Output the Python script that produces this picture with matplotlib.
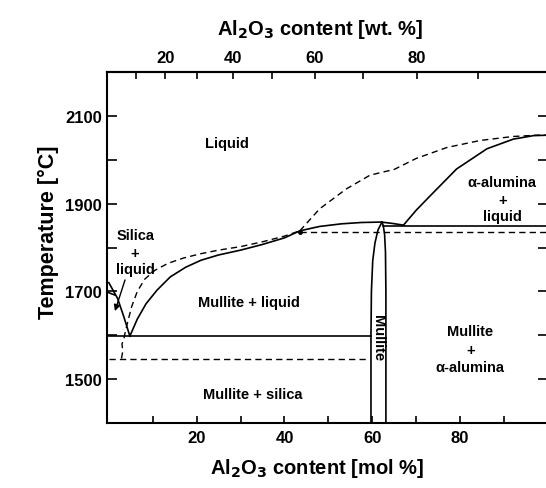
import numpy as np
import matplotlib

matplotlib.use("Agg")
import matplotlib.pyplot as plt
from matplotlib.ticker import FixedLocator

plt.rcParams["font.family"] = ["Liberation Sans", "DejaVu Sans"]
plt.rcParams["font.weight"] = "bold"

M_AL2O3, M_SIO2 = 101.96, 60.08

# stable liquidus, mullite + liquid side (mol % Al2O3, degC)
LIQ_MUL_X = [4.8, 6.5, 8.5, 11.0, 14.0, 17.5, 21.0, 25.0, 30.0, 35.0, 40.0, 43.5,
             48.0, 53.0, 57.5, 62.0, 64.5, 67.1]
LIQ_MUL_T = [1598, 1637, 1672, 1703, 1733, 1755, 1771, 1783, 1794, 1807, 1822, 1838,
             1848, 1854, 1857, 1858, 1855, 1851]
# alumina liquidus
LIQ_ALU_X = [67.1, 70.0, 73.2, 79.2, 86.1, 92.1, 96.7, 100.0]
LIQ_ALU_T = [1851, 1885, 1918, 1979, 2025, 2047, 2055, 2056]
# silica liquidus
LIQ_SIL_X = [0.0, 2.0, 3.4, 4.8]
LIQ_SIL_T = [1720, 1684, 1643, 1598]
LIQ_SIL2_X = [0.0, 1.3]
LIQ_SIL2_T = [1697, 1692]
# metastable liquidus (dashed), low-alumina part
META_LOW_X = [2.9, 3.2, 3.0, 3.4, 3.7, 4.3, 5.2, 6.5, 8.2, 10.5, 13.5, 17.0, 21.0,
              25.0, 30.0, 35.0, 40.0, 43.5]
META_LOW_T = [1547, 1565, 1580, 1590, 1605, 1630, 1665, 1700, 1728, 1748, 1764, 1776,
              1786, 1794, 1802, 1813, 1826, 1838]
# metastable liquidus (dashed), high-alumina part
META_HIGH_X = [43.5, 48.0, 54.0, 59.5, 65.0, 70.0, 77.0, 84.6, 92.0, 97.5, 100.0]
META_HIGH_T = [1838, 1888, 1933, 1965, 1978, 2003, 2028, 2044, 2053, 2056, 2056]

# mullite solid solution field
MUL_LEFT_X = [59.7, 59.7, 59.8, 60.1, 60.6, 61.3, 62.2]
MUL_LEFT_T = [1400, 1600, 1700, 1770, 1810, 1840, 1858]
MUL_RIGHT_X = [63.1, 63.1, 63.0, 62.8, 62.5, 62.2]
MUL_RIGHT_T = [1400, 1700, 1790, 1830, 1850, 1858]

# invariant lines: (x start, x end, T)
EUTECTIC = (0.0, 59.7, 1598)
META_EUTECTIC = (0.0, 58.7, 1547)
ALU_EUTECTIC = (62.5, 100.0, 1850)
META_ALU = (43.5, 100.0, 1835)

# leader arrow in silica + liquid field
ARROW_FROM = (3.7, 1726)
ARROW_TO = (1.4, 1655)

LABELS = [
    ("Liquid", 26.8, 2038),
    ("Silica", 6.0, 1828), ("+", 6.0, 1787), ("liquid", 6.0, 1751),
    ("Mullite + liquid", 31.9, 1676),
    ("Mullite + silica", 32.7, 1466),
    ("\u03b1-alumina", 89.6, 1949), ("+", 89.6, 1909), ("liquid", 89.6, 1871),
    ("Mullite", 82.3, 1610), ("+", 82.3, 1567), ("\u03b1-alumina", 82.3, 1527),
]

WT_MAJOR = [20, 40, 60, 80]
WT_MINOR = [10, 30, 50, 70, 90]


def mol_to_wt(x):
    x = np.asarray(x, float)
    a = x * M_AL2O3
    return 100 * a / (a + (100 - x) * M_SIO2)


def wt_to_mol(w):
    w = np.asarray(w, float)
    a = w / M_AL2O3
    return 100 * a / (a + (100 - w) / M_SIO2)


fig = plt.figure(figsize=(5.46, 4.89), dpi=100)
ax = fig.add_axes([0.1952, 0.1329, 0.8084, 0.7178])

solid = dict(color="black", lw=1.2)
dash = dict(color="black", lw=1.0, dashes=(4.5, 3))

ax.plot(LIQ_MUL_X, LIQ_MUL_T, **solid)
ax.plot(LIQ_ALU_X, LIQ_ALU_T, **solid)
ax.plot(LIQ_SIL_X, LIQ_SIL_T, **solid)
ax.plot(LIQ_SIL2_X, LIQ_SIL2_T, **solid)
ax.plot(MUL_LEFT_X, MUL_LEFT_T, **solid)
ax.plot(MUL_RIGHT_X, MUL_RIGHT_T, **solid)
ax.plot(META_LOW_X, META_LOW_T, **dash)
ax.plot(META_HIGH_X, META_HIGH_T, **dash)

for x0, x1, t in (EUTECTIC, ALU_EUTECTIC):
    ax.plot([x0, x1], [t, t], **solid)
for x0, x1, t in (META_EUTECTIC, META_ALU):
    ax.plot([x0, x1], [t, t], **dash)
ax.plot([META_ALU[0]], [META_ALU[2]], "o", color="black", ms=2.5)

ax.annotate("", xy=ARROW_TO, xytext=ARROW_FROM,
            arrowprops=dict(arrowstyle="-|>", color="black", lw=1.0,
                            mutation_scale=9, shrinkA=0, shrinkB=0))

for s, x, t in LABELS:
    ax.text(x, t, s, ha="center", va="center", fontsize=10.5)
ax.text(61.4, 1595, "Mullite", ha="center", va="center", fontsize=10.5, rotation=270)

ax.set_xlim(-0.5, 100)
ax.set_ylim(1400, 2200)
ax.set_xticks([20, 40, 60, 80])
ax.set_xticks([10, 30, 50, 70, 90], minor=True)
ax.set_yticks([1500, 1700, 1900, 2100])
ax.set_yticks([1600, 1800, 2000], minor=True)
ax.tick_params(axis="both", which="both", direction="in", labelsize=12, width=1.2)
ax.tick_params(axis="x", which="both", length=5, pad=5)
ax.tick_params(axis="y", which="both", length=7, pad=3.5, right=True)
for sp in ax.spines.values():
    sp.set_linewidth(1.5)

top = ax.secondary_xaxis("top", functions=(mol_to_wt, wt_to_mol))
top.xaxis.set_major_locator(FixedLocator(WT_MAJOR))
top.xaxis.set_minor_locator(FixedLocator(WT_MINOR))
top.tick_params(axis="x", which="both", direction="in", length=5, width=1.2,
                labelsize=12, pad=5)
top.spines["top"].set_linewidth(1.5)
top.set_xlabel("Al$_2$O$_3$ content [wt. %]", fontsize=14.5, fontweight="bold")
top.xaxis.set_label_coords(0.483, 1.108, transform=ax.transAxes)

ax.set_xlabel("Al$_2$O$_3$ content [mol %]", fontsize=14.5, fontweight="bold")
ax.xaxis.set_label_coords(0.476, -0.095)
ax.set_ylabel("Temperature [\u00b0C]", fontsize=15.5, fontweight="bold")
ax.yaxis.set_label_coords(-0.108, 0.547)

fig.savefig("out.png", dpi=100)
